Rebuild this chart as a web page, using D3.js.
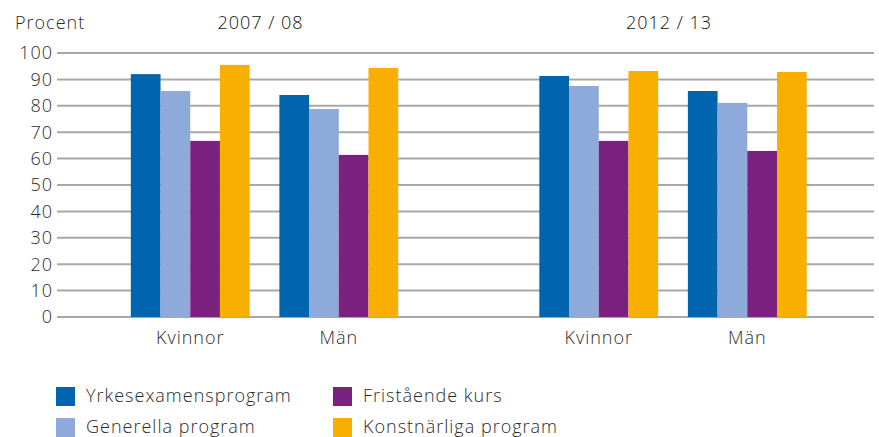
<!DOCTYPE html>
<html lang="sv">
<head>
  <meta charset="UTF-8">
  <title>Procent per program</title>
  <style>
    body { margin: 0; background: #fff; }
    svg text {
      font-family: "Open Sans", sans-serif;
      font-weight: 300;
      font-size: 18px;
      letter-spacing: 1px;
      fill: #2b2b2b;
    }
    .grid line { stroke: #a8a8a8; stroke-width: 2; }
  </style>
</head>
<body>
  <div id="chart"></div>
  <script src="https://d3js.org/d3.v7.min.js"></script>
  <script>
    // data
    const years = ["2007/08", "2012/13"];
    const genders = ["Kvinnor", "Män"];
    const series = ["Yrkesexamensprogram", "Generella program", "Fristående kurs", "Konstnärliga program"];
    const colors = ["#0064af", "#8eaada", "#7b2281", "#f9af00"];
    const yTicks = [0, 10, 20, 30, 40, 50, 60, 70, 80, 90, 100];

    // values per series: [2007/08 Kvinnor, 2007/08 Män, 2012/13 Kvinnor, 2012/13 Män]
    const yrkes = [92.0, 84.1, 91.3, 85.6];
    const generella = [85.6, 78.8, 87.5, 81.1];
    const fristaende = [66.7, 61.4, 66.7, 62.9];
    const konst = [95.5, 94.3, 93.2, 92.8];
    const seriesValues = [yrkes, generella, fristaende, konst];

    const width = 879, height = 437;
    const plotLeft = 57, plotRight = 874, plotTop = 53, plotBottom = 317;

    const svg = d3.select('#chart').append('svg')
      .attr('width', width)
      .attr('height', height);

    const x0 = d3.scaleBand().domain(years).range([plotLeft, plotRight])
      .paddingInner(0.2).paddingOuter(0.1).align(0.54);
    const x1 = d3.scaleBand().domain(genders).range([0, x0.bandwidth()])
      .paddingInner(0.2).paddingOuter(0.2);
    const x2 = d3.scaleBand().domain(series).range([0, x1.bandwidth()]);
    const y = d3.scaleLinear().domain([0, 100]).range([plotBottom, plotTop]);

    // gridlines
    svg.append('g').attr('class', 'grid')
      .selectAll('line')
      .data(yTicks)
      .join('line')
      .attr('x1', plotLeft).attr('x2', plotRight)
      .attr('y1', d => y(d)).attr('y2', d => y(d));

    // y labels
    svg.append('g')
      .selectAll('text')
      .data(yTicks)
      .join('text')
      .attr('x', 53)
      .attr('y', d => y(d))
      .attr('dy', '0.35em')
      .attr('text-anchor', 'end')
      .text(d => d);

    svg.append('text')
      .attr('x', 15).attr('y', 29)
      .text('Procent');

    // flatten into bars
    const bars = [];
    years.forEach((yr, yi) => {
      genders.forEach((g, gi) => {
        series.forEach((s, si) => {
          bars.push({ year: yr, gender: g, series: s, color: colors[si], value: seriesValues[si][yi * 2 + gi] });
        });
      });
    });

    svg.append('g')
      .selectAll('rect')
      .data(bars)
      .join('rect')
      .attr('x', d => x0(d.year) + x1(d.gender) + x2(d.series))
      .attr('width', x2.bandwidth())
      .attr('y', d => y(d.value))
      .attr('height', d => y(0) - y(d.value))
      .attr('fill', d => d.color);

    // year titles
    svg.append('g')
      .selectAll('text')
      .data(years)
      .join('text')
      .attr('x', d => x0(d) + x0.bandwidth() / 2 - 4)
      .attr('y', 29)
      .attr('text-anchor', 'middle')
      .style('fill', '#111')
      .text(d => d.replace('/', ' / '));

    // category labels
    years.forEach(yr => {
      svg.append('g')
        .selectAll('text')
        .data(genders)
        .join('text')
        .attr('x', d => x0(yr) + x1(d) + x1.bandwidth() / 2)
        .attr('y', 344)
        .attr('text-anchor', 'middle')
        .text(d => d);
    });

    // legend
    const legendPos = [[56, 387], [56, 418], [333, 387], [333, 418]];
    const legend = svg.append('g')
      .selectAll('g')
      .data(series)
      .join('g')
      .attr('transform', (d, i) => `translate(${legendPos[i][0]}, ${legendPos[i][1]})`);

    legend.append('rect')
      .attr('width', 19).attr('height', 19)
      .attr('fill', (d, i) => colors[i]);

    legend.append('text')
      .attr('x', 30).attr('y', 15)
      .text(d => d);
  </script>
</body>
</html>
